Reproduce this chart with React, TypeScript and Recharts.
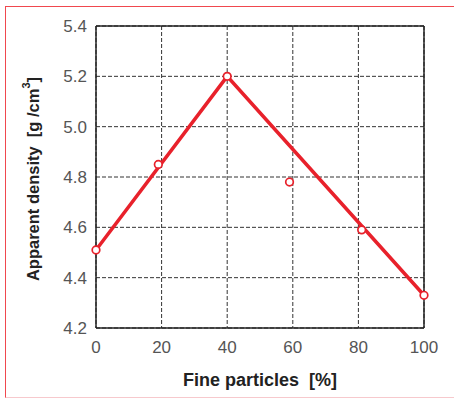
import { ComposedChart, Line, Scatter, XAxis, YAxis, CartesianGrid, ReferenceLine } from 'recharts'

// measured points
const particles = [0, 19, 40, 59, 81, 100]
const density = [4.51, 4.85, 5.2, 4.78, 4.59, 4.33]
// piecewise trend line (only at 0, 40, 100)
const trend = [4.51, null, 5.2, null, null, 4.33]

const xTicks = [0, 20, 40, 60, 80, 100]
const yTicks = [4.2, 4.4, 4.6, 4.8, 5.0, 5.2, 5.4]

const RED = '#e8212b'
const FONT = '"Liberation Sans", Arial, Helvetica, sans-serif'

const data = particles.map((x, i) => ({ x, y: density[i], fit: trend[i] }))

const Marker = (props: any) => (
    <circle cx={props.cx} cy={props.cy} r={3.8} fill="#fff" stroke={RED} strokeWidth={1.7} />
)

const YTitle = (props: any) => {
    const vb = props.viewBox
    const cx = 33
    const cy = vb.y + vb.height / 2 + 2
    return (
        <text
            x={cx}
            y={cy}
            transform={`rotate(-90, ${cx}, ${cy})`}
            textAnchor="middle"
            dominantBaseline="central"
            fontFamily={FONT}
            fontWeight="bold"
            fontSize={16.5}
            fill="#222"
        >
            {'Apparent density\u00a0\u00a0[g /cm'}<tspan fontSize={11} dy={-7}>3</tspan><tspan dy={7}>]</tspan>
        </text>
    )
}

export default function App() {
    return (
        <div style={{ position: 'fixed', left: 0, top: 0, width: 454, height: 399, background: '#fff' }}>
            <div
                style={{
                    position: 'absolute',
                    left: 5,
                    top: 6,
                    width: 460,
                    height: 390,
                    borderTop: '1px solid #f0484e',
                    borderLeft: '1px solid #f0484e',
                    borderBottom: '1px solid #f7c9cd',
                }}
            />
            <div style={{ position: 'absolute', left: 0, top: 0 }}>
                <ComposedChart width={454} height={399} data={data} margin={{ top: 26, right: 30, left: 0, bottom: 0 }}>
                    <CartesianGrid stroke="#333" strokeDasharray="4 2" strokeWidth={1} />
                    <XAxis
                        dataKey="x"
                        type="number"
                        domain={[0, 100]}
                        ticks={xTicks}
                        height={71}
                        tickLine={false}
                        tickSize={6}
                        tickMargin={7}
                        axisLine={{ stroke: '#222', strokeWidth: 1.5 }}
                        tick={{ fill: '#555', fontSize: 17, fontFamily: FONT }}
                        label={{
                            value: 'Fine particles\u00a0\u00a0[%]',
                            position: 'insideBottom',
                            offset: 13,
                            style: { fill: '#222', fontSize: 18, fontWeight: 'bold', fontFamily: FONT },
                        }}
                    />
                    <YAxis
                        type="number"
                        domain={[4.2, 5.4]}
                        ticks={yTicks}
                        width={96}
                        tickLine={false}
                        tickSize={6}
                        tickMargin={3}
                        interval={0}
                        axisLine={{ stroke: '#222', strokeWidth: 1.5 }}
                        tickFormatter={(v: number) => v.toFixed(1)}
                        tick={{ fill: '#555', fontSize: 17, fontFamily: FONT }}
                        label={<YTitle />}
                    />
                    <ReferenceLine y={5.4} stroke="#222" strokeWidth={1.5} />
                    <ReferenceLine x={100} stroke="#222" strokeWidth={1.5} />
                    <Line
                        dataKey="fit"
                        stroke={RED}
                        strokeWidth={3.5}
                        dot={false}
                        connectNulls
                        isAnimationActive={false}
                    />
                    <Scatter dataKey="y" shape={<Marker />} isAnimationActive={false} />
                </ComposedChart>
            </div>
        </div>
    )
}
